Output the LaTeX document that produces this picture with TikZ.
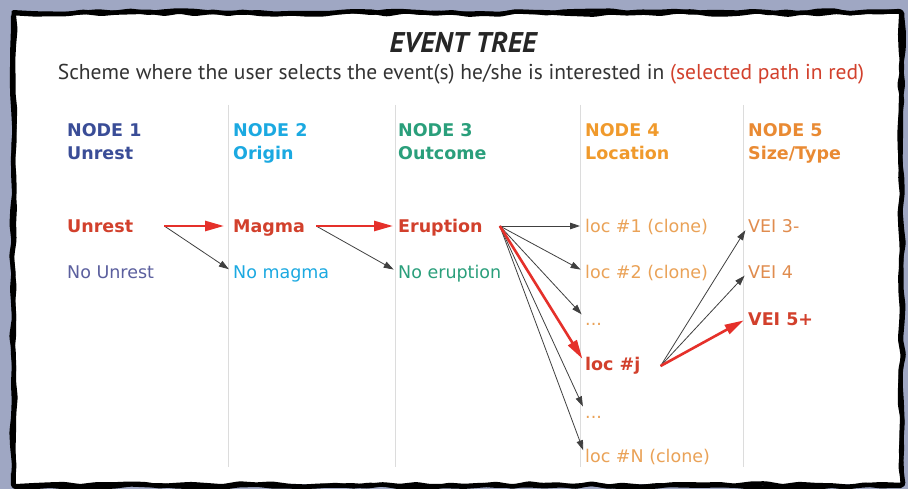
\documentclass[tikz,border=0pt]{standalone}
\usepackage{fontspec}
\setmainfont{DejaVu Sans}
\newfontfamily\titlefont{PT Sans}
\usepackage{xcolor}
\usetikzlibrary{arrows.meta,decorations.pathmorphing,calc}

\definecolor{paneblue}{HTML}{9FA7C3}
\definecolor{nodeone}{HTML}{3A4D97}
\definecolor{nounrest}{HTML}{5B5F9E}
\definecolor{nodetwo}{HTML}{1BA9E1}
\definecolor{nodethree}{HTML}{2A9F7B}
\definecolor{nodefour}{HTML}{F09A2C}
\definecolor{locorange}{HTML}{EAA257}
\definecolor{nodefive}{HTML}{E98A33}
\definecolor{veiorange}{HTML}{E08C4E}
\definecolor{pathred}{HTML}{D2402C}
\definecolor{arrowred}{HTML}{E5302A}
\definecolor{sepgray}{HTML}{DCDCDC}

\tikzset{
	head/.style={anchor=base west, inner sep=0pt, font=\fontsize{17.5}{21}\selectfont\bfseries},
	item/.style={anchor=base west, inner sep=0pt, text height=14pt, text depth=0pt, font=\fontsize{17.5}{21}\selectfont},
	picked/.style={item, text=pathred, font=\fontsize{17.5}{21}\selectfont\bfseries},
	branch/.style={-{Triangle[length=10pt,width=6.5pt]}, draw=black!75, line width=0.8pt, shorten >=5pt},
	chosen/.style={-{Triangle[length=19pt,width=10pt]}, draw=arrowred, line width=2.6pt, shorten >=5pt},
	rough/.style={draw=black, decorate, decoration={random steps, segment length=16pt, amplitude=1.8pt}, rounded corners=2.5pt}
}

\begin{document}
\begin{tikzpicture}[x=1pt,y=-1pt]
		\useasboundingbox (0,0) rectangle (908,489);
		%--- Paper and torn frame ---
		\pgfmathsetseed{11}
		\fill[paneblue] (0,0) rectangle (908,489);
		\fill[white] (13,13) rectangle (902,484);
		\draw[rough, line width=4.5pt] (13,13) rectangle (902,485);
		\draw[rough, line width=4pt] (14,12) rectangle (901,486);

		%--- Title ---
		\node[anchor=base, inner sep=0pt, text=black!85, font=\titlefont\fontsize{28.5}{31}\selectfont\bfseries\itshape] (title) at (463,53) {EVENT TREE};
		\node[anchor=base, inner sep=0pt, text=black!80, font=\titlefont\fontsize{21.5}{24}\selectfont] (subtitle) at (461,80)
		{Scheme where the user selects the event(s) he/she is interested in \textcolor{pathred}{(selected path in red)}};

		%--- Column separators ---
		\foreach \x in {228,395,580,743}
		\draw[sepgray, line width=0.7pt] (\x,105) -- (\x,467);

		%--- Column headers ---
		\node[head, text=nodeone] (hone) at (67,137) {NODE 1};
		\node[head, text=nodeone] (hunrest) at (67,160) {Unrest};
		\node[head, text=nodetwo] (htwo) at (233,137) {NODE 2};
		\node[head, text=nodetwo] (horigin) at (233,160) {Origin};
		\node[head, text=nodethree] (hthree) at (398,137) {NODE 3};
		\node[head, text=nodethree] (houtcome) at (398,160) {Outcome};
		\node[head, text=nodefour] (hfour) at (585,137) {NODE 4};
		\node[head, text=nodefour] (hlocation) at (585,160) {Location};
		\node[head, text=nodefive] (hfive) at (748,137) {NODE 5};
		\node[head, text=nodefive] (hsize) at (748,160) {Size/Type};

		%--- Branches ---
		\node[picked] (unrest) at (67,233) {Unrest};
		\node[item, text=nounrest] (nounrest) at (67,279) {No Unrest};
		\node[picked] (magma) at (233,233) {Magma};
		\node[item, text=nodetwo] (nomagma) at (233,279) {No magma};
		\node[picked] (erupt) at (398,233) {Eruption};
		\node[item, text=nodethree] (noerupt) at (398,279) {No eruption};
		\node[item, text=locorange] (locone) at (585,233) {loc \#1 (clone)};
		\node[item, text=locorange] (loctwo) at (585,279) {loc \#2 (clone)};
		\node[item, text=locorange] (dotsa) at (585,325) {...};
		\node[picked] (locj) at (585,370) {loc \#j};
		\node[item, text=locorange] (dotsb) at (585,418) {...};
		\node[item, text=locorange] (locn) at (585,462) {loc \#N (clone)};
		\node[item, text=veiorange] (veithree) at (748,233) {VEI 3-};
		\node[item, text=veiorange] (veifour) at (748,279) {VEI 4};
		\node[picked] (veifive) at (748,325) {VEI 5+};

		% Arrow origins, a little right of each label
		\coordinate (unrestout) at ([xshift=31pt]unrest.east);
		\coordinate (magmaout) at ([xshift=11pt]magma.east);
		\coordinate (eruptout) at ([xshift=17pt]erupt.east);
		\coordinate (locjout) at ([xshift=20pt,yshift=-3pt]locj.east);

		%--- Connectors ---
		\draw[branch] (unrestout) -- (nomagma.west);
		\draw[branch] (magmaout) -- (noerupt.west);
		\foreach \t in {locone,loctwo,dotsa,dotsb,locn}
		\draw[branch] (eruptout) -- (\t.west);
		\draw[branch] (locjout) -- (veithree.west);
		\draw[branch] (locjout) -- (veifour.west);

		\draw[chosen, shorten >=9pt] (unrestout) -- (magma.west);
		\draw[chosen] (magmaout) -- (erupt.west);
		\draw[chosen] (eruptout) -- (locj.west);
		\draw[chosen] (locjout) -- (veifive.west);
	\end{tikzpicture}
\end{document}
